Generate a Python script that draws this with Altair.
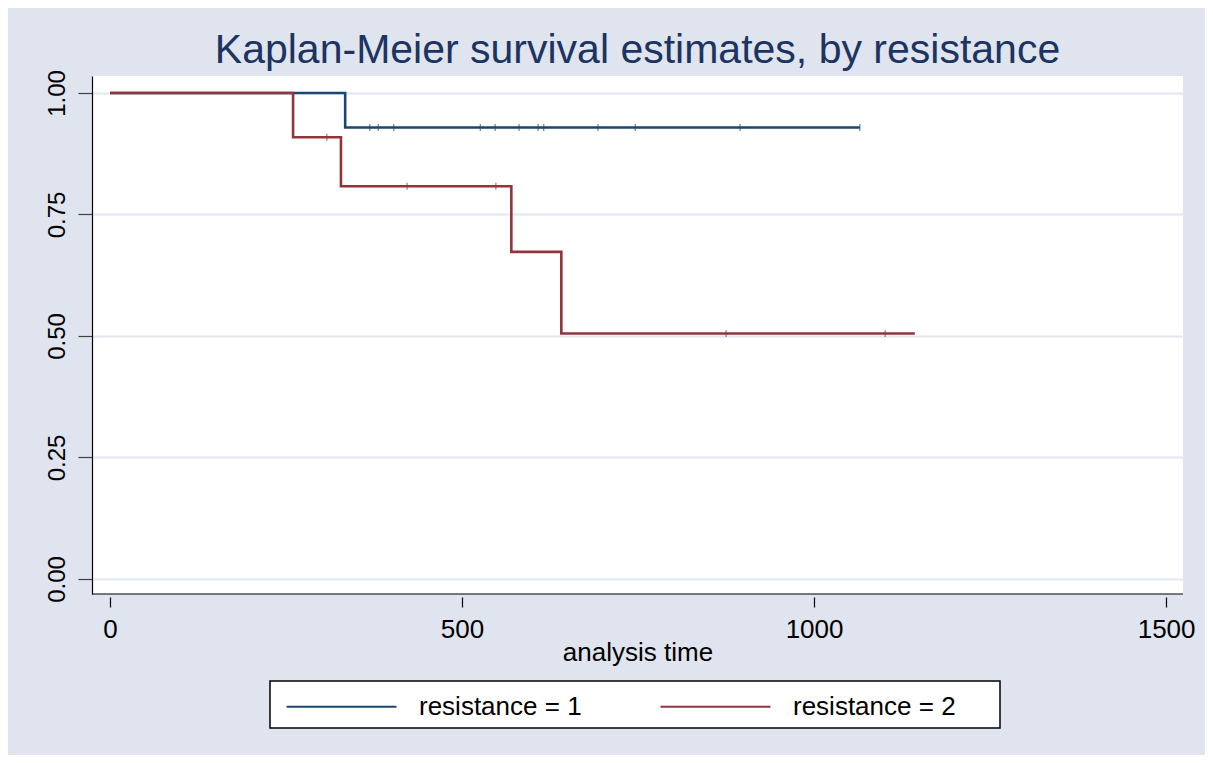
import altair as alt
import pandas as pd

# ---- data ----
title_text = "Kaplan-Meier survival estimates, by resistance"
groups = ["resistance = 1", "resistance = 2"]
colors = ["#1a476f", "#90353b"]

time_g1 = [0, 334, 1065]
surv_g1 = [1.0, 0.929, 0.929]
cens_g1 = [369, 381, 403, 526, 547, 581, 608, 616, 693, 746, 895, 1065]

time_g2 = [0, 260, 328, 570, 641, 1143]
surv_g2 = [1.0, 0.909, 0.808, 0.673, 0.505, 0.505]
cens_g2 = [308, 422, 548, 875, 1101]

x_ticks = [0, 500, 1000, 1500]
y_ticks = [0.0, 0.25, 0.5, 0.75, 1.0]

W, H = 1091, 518
BG = "#dfe4ee"
FONT = "Liberation Sans"


def step_value(times, survs, t):
    v = survs[0]
    for tt, ss in zip(times, survs):
        if tt <= t:
            v = ss
    return v


curve = pd.DataFrame(
    [{"time": t, "surv": s, "group": groups[0]} for t, s in zip(time_g1, surv_g1)]
    + [{"time": t, "surv": s, "group": groups[1]} for t, s in zip(time_g2, surv_g2)]
)
cens = pd.DataFrame(
    [{"time": t, "surv": step_value(time_g1, surv_g1, t), "group": groups[0]} for t in cens_g1]
    + [{"time": t, "surv": step_value(time_g2, surv_g2, t), "group": groups[1]} for t in cens_g2]
)

xscale = alt.Scale(domain=[-25.6, 1524], nice=False, zero=False)
yscale = alt.Scale(domain=[-0.031, 1.035], nice=False, zero=False)
cscale = alt.Scale(domain=groups, range=colors)

x_axis = alt.Axis(
    values=x_ticks, format="d", title="analysis time", grid=False,
    domain=False, offset=3, tickSize=10, tickColor="#000000", tickWidth=1.2,
    labelFont=FONT, labelFontSize=26, labelColor="#000000", labelPadding=9,
    titleFont=FONT, titleFontSize=26, titleFontWeight="normal", titleColor="#000000",
    titleBaseline="alphabetic", titleY=63,
)
y_axis = alt.Axis(
    values=y_ticks, format=".2f", title=None, grid=True,
    gridColor="#e2e6f0", gridWidth=2,
    domain=True, domainColor="#000000", domainWidth=1.2,
    tickSize=14, tickColor="#404040", tickWidth=1.2,
    labelAngle=270, labelFont=FONT, labelFontSize=24, labelColor="#000000",
    labelPadding=9,
)

legend = alt.Legend(
    title=None, orient="none", legendX=193, legendY=574, direction="horizontal",
    symbolType="stroke", symbolSize=12100, symbolStrokeWidth=2.2,
    labelFont=FONT, labelFontSize=26, labelColor="#000000", labelOffset=21,
    columnPadding=74, padding=0, labelLimit=400,
)

one = pd.DataFrame({"k": [0]})

box = alt.Chart(one).mark_rect(
    fill="white", stroke="#000000", strokeWidth=1.5
).encode(
    x=alt.value(178), x2=alt.value(908), y=alt.value(605), y2=alt.value(652)
)

frame = alt.Chart(one).mark_rule(
    color="#000000", strokeWidth=1.2
).encode(x=alt.value(0), x2=alt.value(W), y=alt.value(H))

title = alt.Chart(one).mark_text(
    font=FONT, fontSize=41, color="#1c3461", align="center", baseline="alphabetic"
).encode(x=alt.value(W / 2), y=alt.value(-13), text=alt.value(title_text))

lines = alt.Chart(curve).mark_line(interpolate="step-after", strokeWidth=2.6).encode(
    x=alt.X("time:Q", scale=xscale, axis=x_axis),
    y=alt.Y("surv:Q", scale=yscale, axis=y_axis),
    color=alt.Color("group:N", scale=cscale, legend=legend),
)

ticks = alt.Chart(cens).mark_tick(orient="vertical", size=7, thickness=1.4, opacity=0.6).encode(
    x=alt.X("time:Q", scale=xscale),
    y=alt.Y("surv:Q", scale=yscale),
    color=alt.Color("group:N", scale=cscale, legend=None),
)

chart = alt.layer(box, frame, title, lines, ticks).properties(
    width=W, height=H,
    autosize=alt.AutoSizeParams(type="none"),
    padding={"left": 84, "top": 68, "right": 22, "bottom": 161},
    background=BG,
).configure_view(fill="white", stroke=None)

chart.save("out.html", embed_options={"renderer": "svg", "actions": False})
